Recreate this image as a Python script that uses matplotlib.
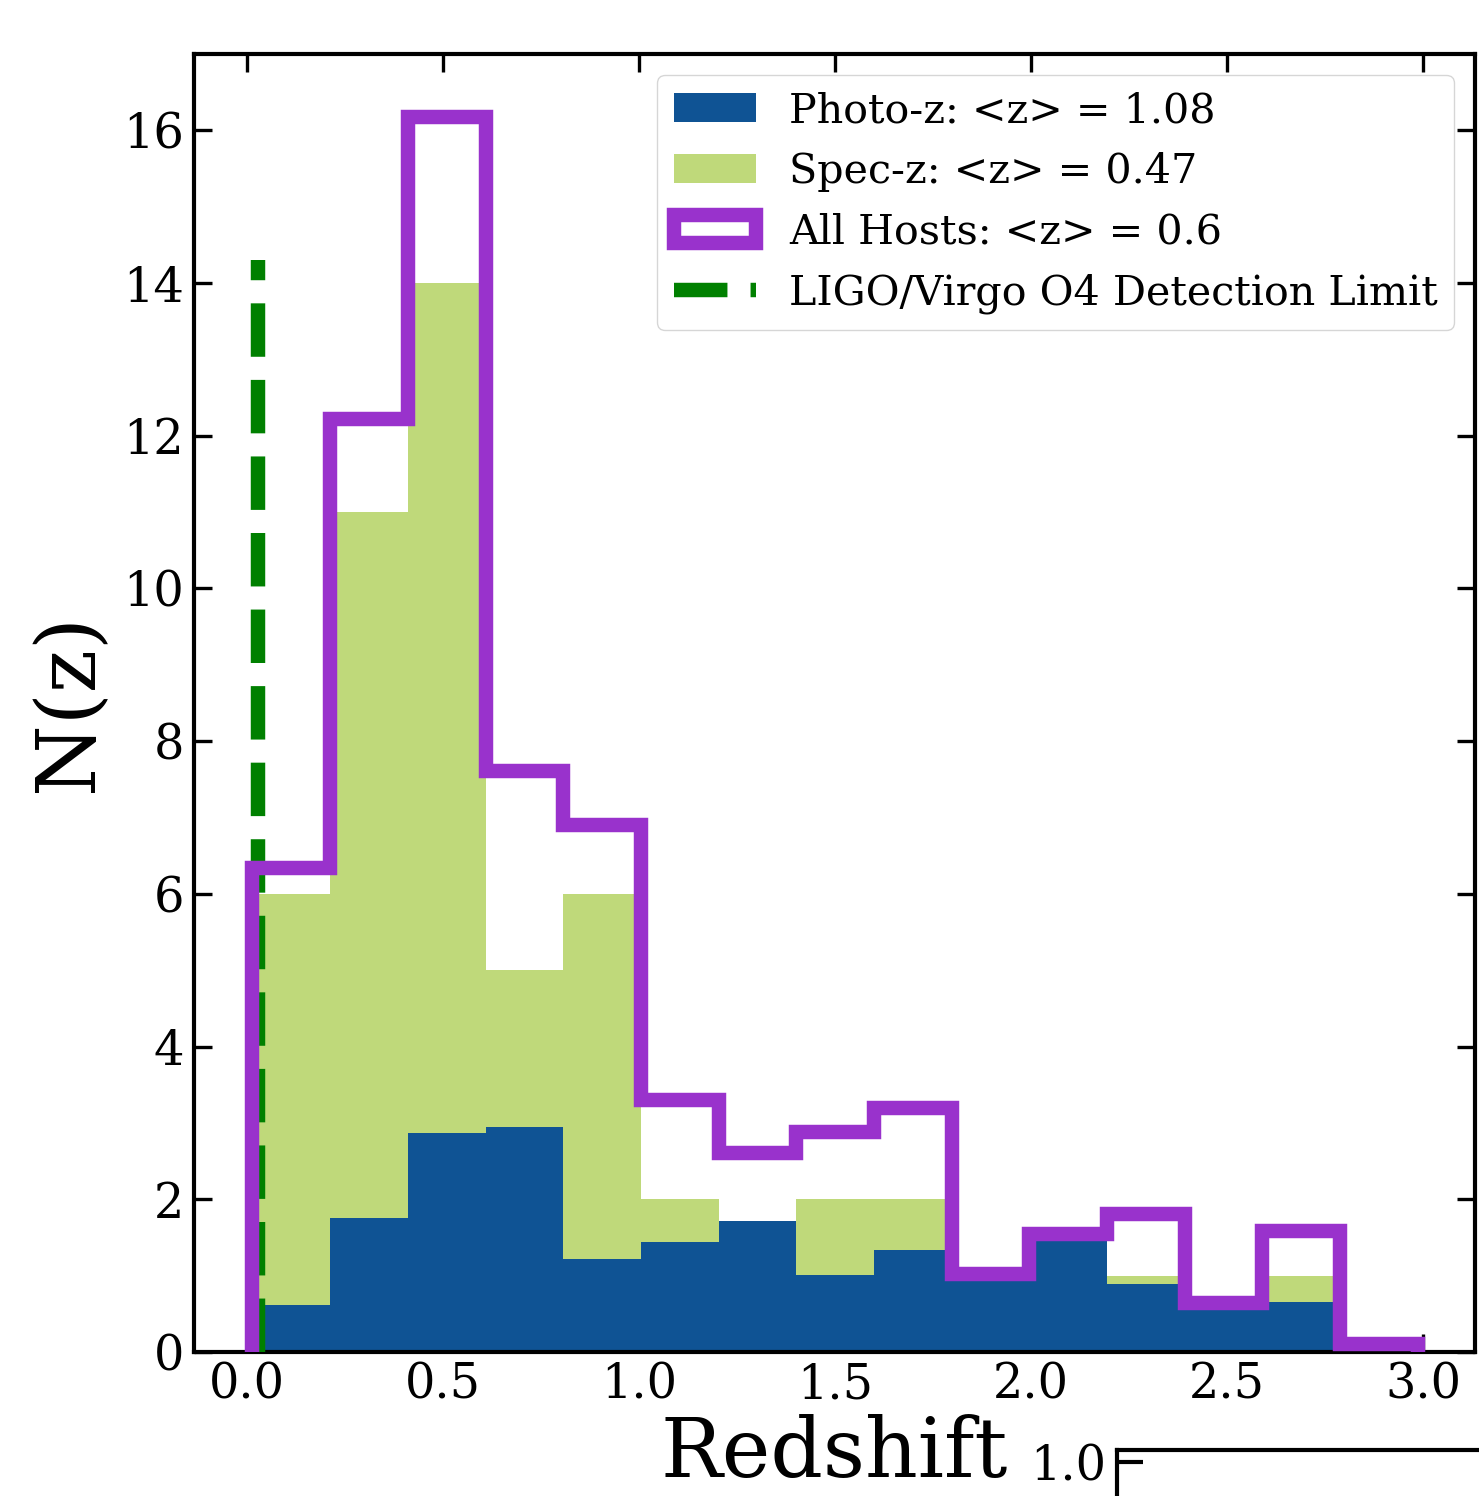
import matplotlib
matplotlib.use("Agg")
import matplotlib.pyplot as plt
from matplotlib.ticker import FormatStrFormatter
import numpy as np

plt.rcParams["font.family"] = ["DejaVu Serif"]

# shared redshift bins (15 bins)
bin_edges = np.linspace(0.015, 2.986, 16)

# N(z) per bin
photo_z_counts = [0.61, 1.75, 2.87, 2.95, 1.22, 1.44, 1.72, 1.01, 1.33, 0.94,
                  1.46, 0.89, 0.55, 0.65, 0.10]
spec_z_counts = [6, 11, 14, 5, 6, 2, 1, 2, 2, 0, 0, 1, 0, 1, 0]
all_hosts_counts = [6.34, 12.22, 16.17, 7.61, 6.90, 3.30, 2.60, 2.88, 3.19, 1.02,
                    1.55, 1.81, 0.64, 1.59, 0.10]

ligo_limit_z = 0.03
ligo_limit_top = 14.3

labels = [
    "Photo-z: <z> = 1.08",
    "Spec-z: <z> = 0.47",
    "All Hosts: <z> = 0.6",
    "LIGO/Virgo O4 Detection Limit",
]

W, H = 1479, 1496
fig = plt.figure(figsize=(W / 100, H / 100), dpi=100)
fig.patch.set_facecolor("white")
ax = fig.add_axes([194 / W, (H - 1352) / H, (1475 - 194) / W, (1352 - 54) / H])

centers = 0.5 * (bin_edges[:-1] + bin_edges[1:])
ax.hist(centers, bins=bin_edges, weights=spec_z_counts, color="#BFD97A",
        label=labels[1], zorder=1)
ax.hist(centers, bins=bin_edges, weights=photo_z_counts, color="#0F5394",
        label=labels[0], zorder=2)
ax.plot([ligo_limit_z, ligo_limit_z], [0, ligo_limit_top], color="green",
        lw=10.4, ls="--", label=labels[3], zorder=3)
ax.hist(centers, bins=bin_edges, weights=all_hosts_counts, histtype="step",
        color="#9932CC", lw=10.4, label=labels[2], zorder=4)

ax.set_xlim(-0.134, 3.132)
ax.set_ylim(0, 17)
ax.set_xticks(np.arange(0, 3.01, 0.5))
ax.set_yticks(np.arange(0, 17, 2))
ax.tick_params(which="both", direction="in", top=True, right=True,
               length=13, width=2.4, labelsize=34.5, pad=7)
for spine in ax.spines.values():
    spine.set_linewidth(3)

ax.set_xlabel("Redshift", fontsize=59, labelpad=4)
ax.set_ylabel("N(z)", fontsize=59, labelpad=10)

handles, hlabels = ax.get_legend_handles_labels()
order = [hlabels.index(lbl) for lbl in labels]
ax.legend([handles[i] for i in order], [hlabels[i] for i in order],
          loc="upper right", fontsize=29.7)

# second panel peeking in at the bottom right corner (mostly off the canvas)
ax2 = fig.add_axes([1117 / W, -0.5, 0.5, 0.5 + (H - 1450) / H])
ax2.set_facecolor("none")
ax2.set_ylim(0, 1.015)
ax2.set_yticks([1.0])
ax2.yaxis.set_major_formatter(FormatStrFormatter("%.1f"))
ax2.set_xticks([])
ax2.tick_params(direction="in", length=19, width=3, labelsize=34.5, pad=8)
for spine in ax2.spines.values():
    spine.set_linewidth(3)

fig.savefig("out.png", dpi=100, facecolor="white")
